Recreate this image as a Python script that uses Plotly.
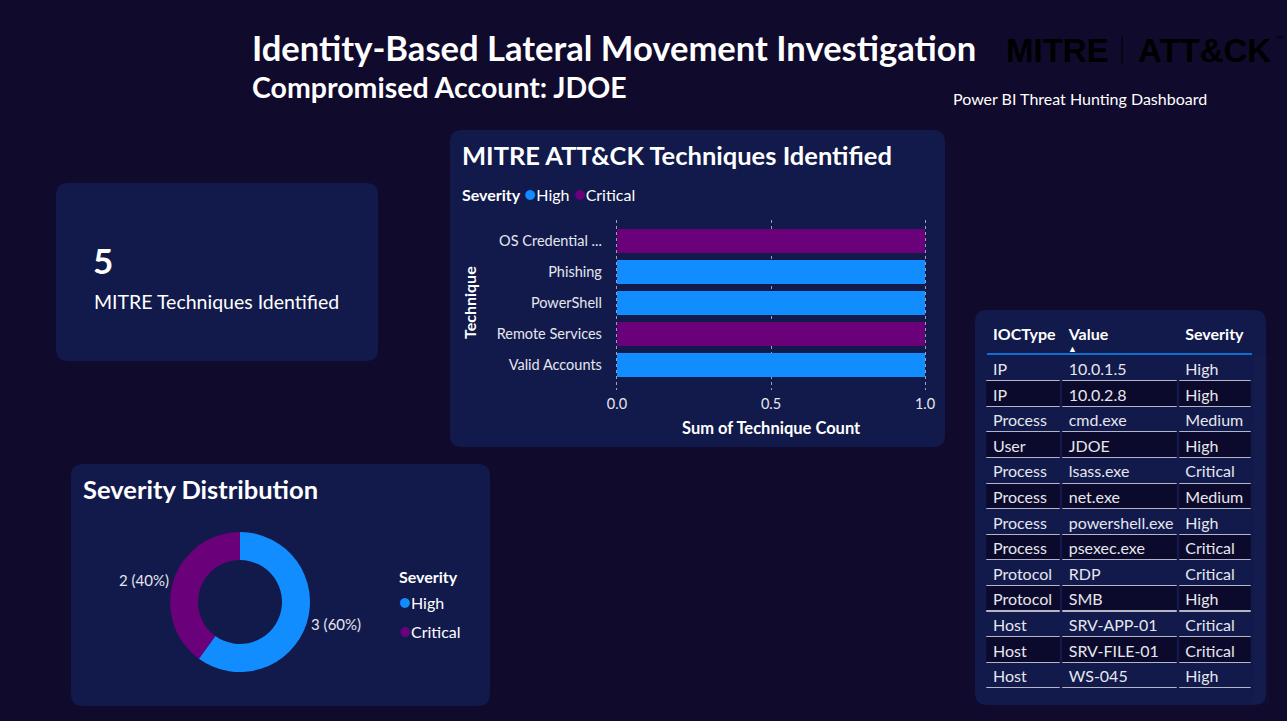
import plotly.graph_objects as go

W, H = 1287, 721


def px(x):
    return x / W


def py(y):
    return 1 - y / H


# ---------------- data ----------------
techniques = ["OS Credential Dumping", "Phishing", "PowerShell", "Remote Services", "Valid Accounts"]
technique_labels = ["OS Credential ...", "Phishing", "PowerShell", "Remote Services", "Valid Accounts"]
technique_severity = ["Critical", "High", "High", "Critical", "High"]
technique_count = [1, 1, 1, 1, 1]

severity_levels = ["High", "Critical"]
severity_counts = [3, 2]

x_ticks = [0.0, 0.5, 1.0]

ioc_type = ["IP", "IP", "Process", "User", "Process", "Process", "Process", "Process",
            "Protocol", "Protocol", "Host", "Host", "Host"]
ioc_value = ["10.0.1.5", "10.0.2.8", "cmd.exe", "JDOE", "lsass.exe", "net.exe", "powershell.exe",
             "psexec.exe", "RDP", "SMB", "SRV-APP-01", "SRV-FILE-01", "WS-045"]
ioc_severity = ["High", "High", "Medium", "High", "Critical", "Medium", "High", "Critical",
                "Critical", "High", "Critical", "Critical", "High"]
table_headers = ["IOCType", "Value", "Severity"]

# ---------------- style ----------------
BG = "#100A2C"
PANEL = "#111A4B"
DARKROW = "#0C0A2C"
SEV_COLORS = {"High": "#118DFF", "Critical": "#6B007B"}
FONT = "Segoe UI, Lato, sans-serif"
LOGO_FONT = "Liberation Sans Narrow, Arial Narrow, Liberation Sans, sans-serif"
TXT = "#FFFFFF"
TICK = "#E6E6EE"

fig = go.Figure()

# ---------------- bar chart ----------------
for sev in severity_levels:
    ys = [t for t, s in zip(techniques, technique_severity) if s == sev]
    xs = [c for c, s in zip(technique_count, technique_severity) if s == sev]
    fig.add_trace(go.Bar(
        x=xs, y=ys, orientation="h", name=sev,
        marker=dict(color=SEV_COLORS[sev], line=dict(width=0)),
        showlegend=False, xaxis="x", yaxis="y",
    ))

# ---------------- donut ----------------
fig.add_trace(go.Pie(
    labels=severity_levels, values=severity_counts, hole=0.6, sort=False,
    direction="clockwise", rotation=0,
    marker=dict(colors=[SEV_COLORS[s] for s in severity_levels], line=dict(width=0)),
    textposition="outside", texttemplate="%{value} (%{percent:.0%})",
    textfont=dict(color=TICK, size=15, family=FONT),
    domain=dict(x=[px(90), px(390)], y=[py(672), py(532)]),
    showlegend=False,
))

# ---------------- table ----------------
n = len(ioc_type)
row_fill = [PANEL if i % 2 == 0 else DARKROW for i in range(n)]
fig.add_trace(go.Table(
    domain=dict(x=[px(985), px(1252)], y=[py(704), py(316)]),
    columnwidth=[76, 117, 74],
    header=dict(
        values=[f"<b>{h}</b>" for h in table_headers],
        fill_color=PANEL, line=dict(color=PANEL, width=1),
        align="left", font=dict(color=TXT, size=16, family=FONT), height=39,
    ),
    cells=dict(
        values=[ioc_type, ioc_value, ioc_severity],
        fill_color=[row_fill] * 3, line=dict(color="#B4B6C8", width=1),
        align="left", font=dict(color=TICK, size=16, family=FONT), height=25.6,
    ),
))


# ---------------- panels ----------------
def rounded(x0, y0, x1, y1, r=12):
    rx, ry = r / W, r / H
    X0, X1 = px(x0), px(x1)
    Y0, Y1 = py(y0), py(y1)  # Y0 top (larger), Y1 bottom
    return (f"M {X0 + rx},{Y0} L {X1 - rx},{Y0} Q {X1},{Y0} {X1},{Y0 - ry} "
            f"L {X1},{Y1 + ry} Q {X1},{Y1} {X1 - rx},{Y1} L {X0 + rx},{Y1} "
            f"Q {X0},{Y1} {X0},{Y1 + ry} L {X0},{Y0 - ry} Q {X0},{Y0} {X0 + rx},{Y0} Z")


panels = [(56, 183, 378, 361), (450, 130, 945, 447), (71, 464, 490, 706), (975, 310, 1266, 705)]
shapes = [dict(type="path", path=rounded(*p), xref="paper", yref="paper",
               fillcolor=PANEL, line=dict(width=0), layer="below") for p in panels]
# table: soften the vertical cell borders (Power BI shows only row separators)
for xb in [985, 1061, 1178, 1252]:
    shapes.append(dict(type="line", xref="paper", yref="paper", x0=px(xb), x1=px(xb),
                       y0=py(355), y1=py(702), line=dict(color=PANEL, width=2.5), layer="above"))
# table header underline
shapes.append(dict(type="line", xref="paper", yref="paper", x0=px(987), x1=px(1252),
                   y0=py(354), y1=py(354), line=dict(color="#118DFF", width=1.5), layer="above"))
# MITRE logo divider
shapes.append(dict(type="line", xref="paper", yref="paper", x0=px(1122), x1=px(1122),
                   y0=py(37), y1=py(65), line=dict(color="#000000", width=1)))


def ann(text, x, y, size, color=TXT, xanchor="left", yanchor="middle", textangle=0, family=FONT):
    return dict(text=text, x=px(x), y=py(y), xref="paper", yref="paper", showarrow=False,
                xanchor=xanchor, yanchor=yanchor, textangle=textangle,
                font=dict(size=size, color=color, family=family))


def dot(sev, size=20):
    return f"<span style='color:{SEV_COLORS[sev]};font-size:{size}px'>●</span>"


annotations = [
    ann("<b>Identity-Based Lateral Movement Investigation</b>", 250, 48, 34.6),
    ann("<b>Compromised Account: JDOE</b>", 250, 87, 28.5),
    ann("<b>MITRE</b>", 1004, 51, 33, color="#000000", family=LOGO_FONT),
    ann("<b>ATT&CK</b>", 1273, 51, 33, color="#000000", xanchor="right", family=LOGO_FONT),
    ann("™", 1273, 39, 8, color="#000000", family=LOGO_FONT),
    ann("Power BI Threat Hunting Dashboard", 1080, 99, 16, xanchor="center"),
    # KPI card
    ann("<b>" + str(len(techniques)) + "</b>", 91, 260, 35),
    ann("MITRE Techniques Identified", 92, 301, 19.5),
    # bar chart
    ann("<b>MITRE ATT&CK Techniques Identified</b>", 460, 155, 25.5),
    ann("<b>Severity</b> " + " ".join(dot(s) + s for s in severity_levels), 460, 193, 16),
    ann("<b>Sum of Technique Count</b>", 771, 428, 16.5, xanchor="center"),
    ann("<b>Technique</b>", 469, 303, 16, xanchor="center", textangle=-90),
    # donut
    ann("<b>Severity Distribution</b>", 81, 489, 25.5),
    ann("<b>Severity</b>", 397, 576, 16),
    ann(dot("High") + "High", 397, 601, 16),
    ann(dot("Critical") + "Critical", 397, 630, 16),
    # table sort arrow
    ann("▲", 1072, 348, 9, xanchor="center"),
]

fig.update_layout(
    width=W, height=H, margin=dict(l=0, r=0, t=0, b=0, autoexpand=False),
    paper_bgcolor=BG, plot_bgcolor="rgba(0,0,0,0)",
    font=dict(family=FONT, color=TXT),
    barmode="group", bargap=0.226, bargroupgap=0,
    shapes=shapes, annotations=annotations,
    xaxis=dict(domain=[px(613.9), px(928.1)], range=[-0.01, 1.01], tickvals=x_ticks,
               tickformat=".1f", showgrid=True, gridcolor="#A0A0B8", griddash="dot",
               gridwidth=1, zeroline=False, showline=False, ticks="",
               tickfont=dict(size=14.5, color=TICK, family=FONT), ticklabelstandoff=3,
               fixedrange=True, automargin=False),
    yaxis=dict(domain=[py(390), py(220)], type="category", categoryorder="array",
               categoryarray=techniques, range=[4.81, -0.68], tickvals=techniques,
               ticktext=technique_labels, showgrid=False, zeroline=False, ticks="",
               tickfont=dict(size=14.5, color=TICK, family=FONT), ticklabelstandoff=11,
               fixedrange=True, automargin=False),
    showlegend=False,
)

fig.write_html("out.html")
